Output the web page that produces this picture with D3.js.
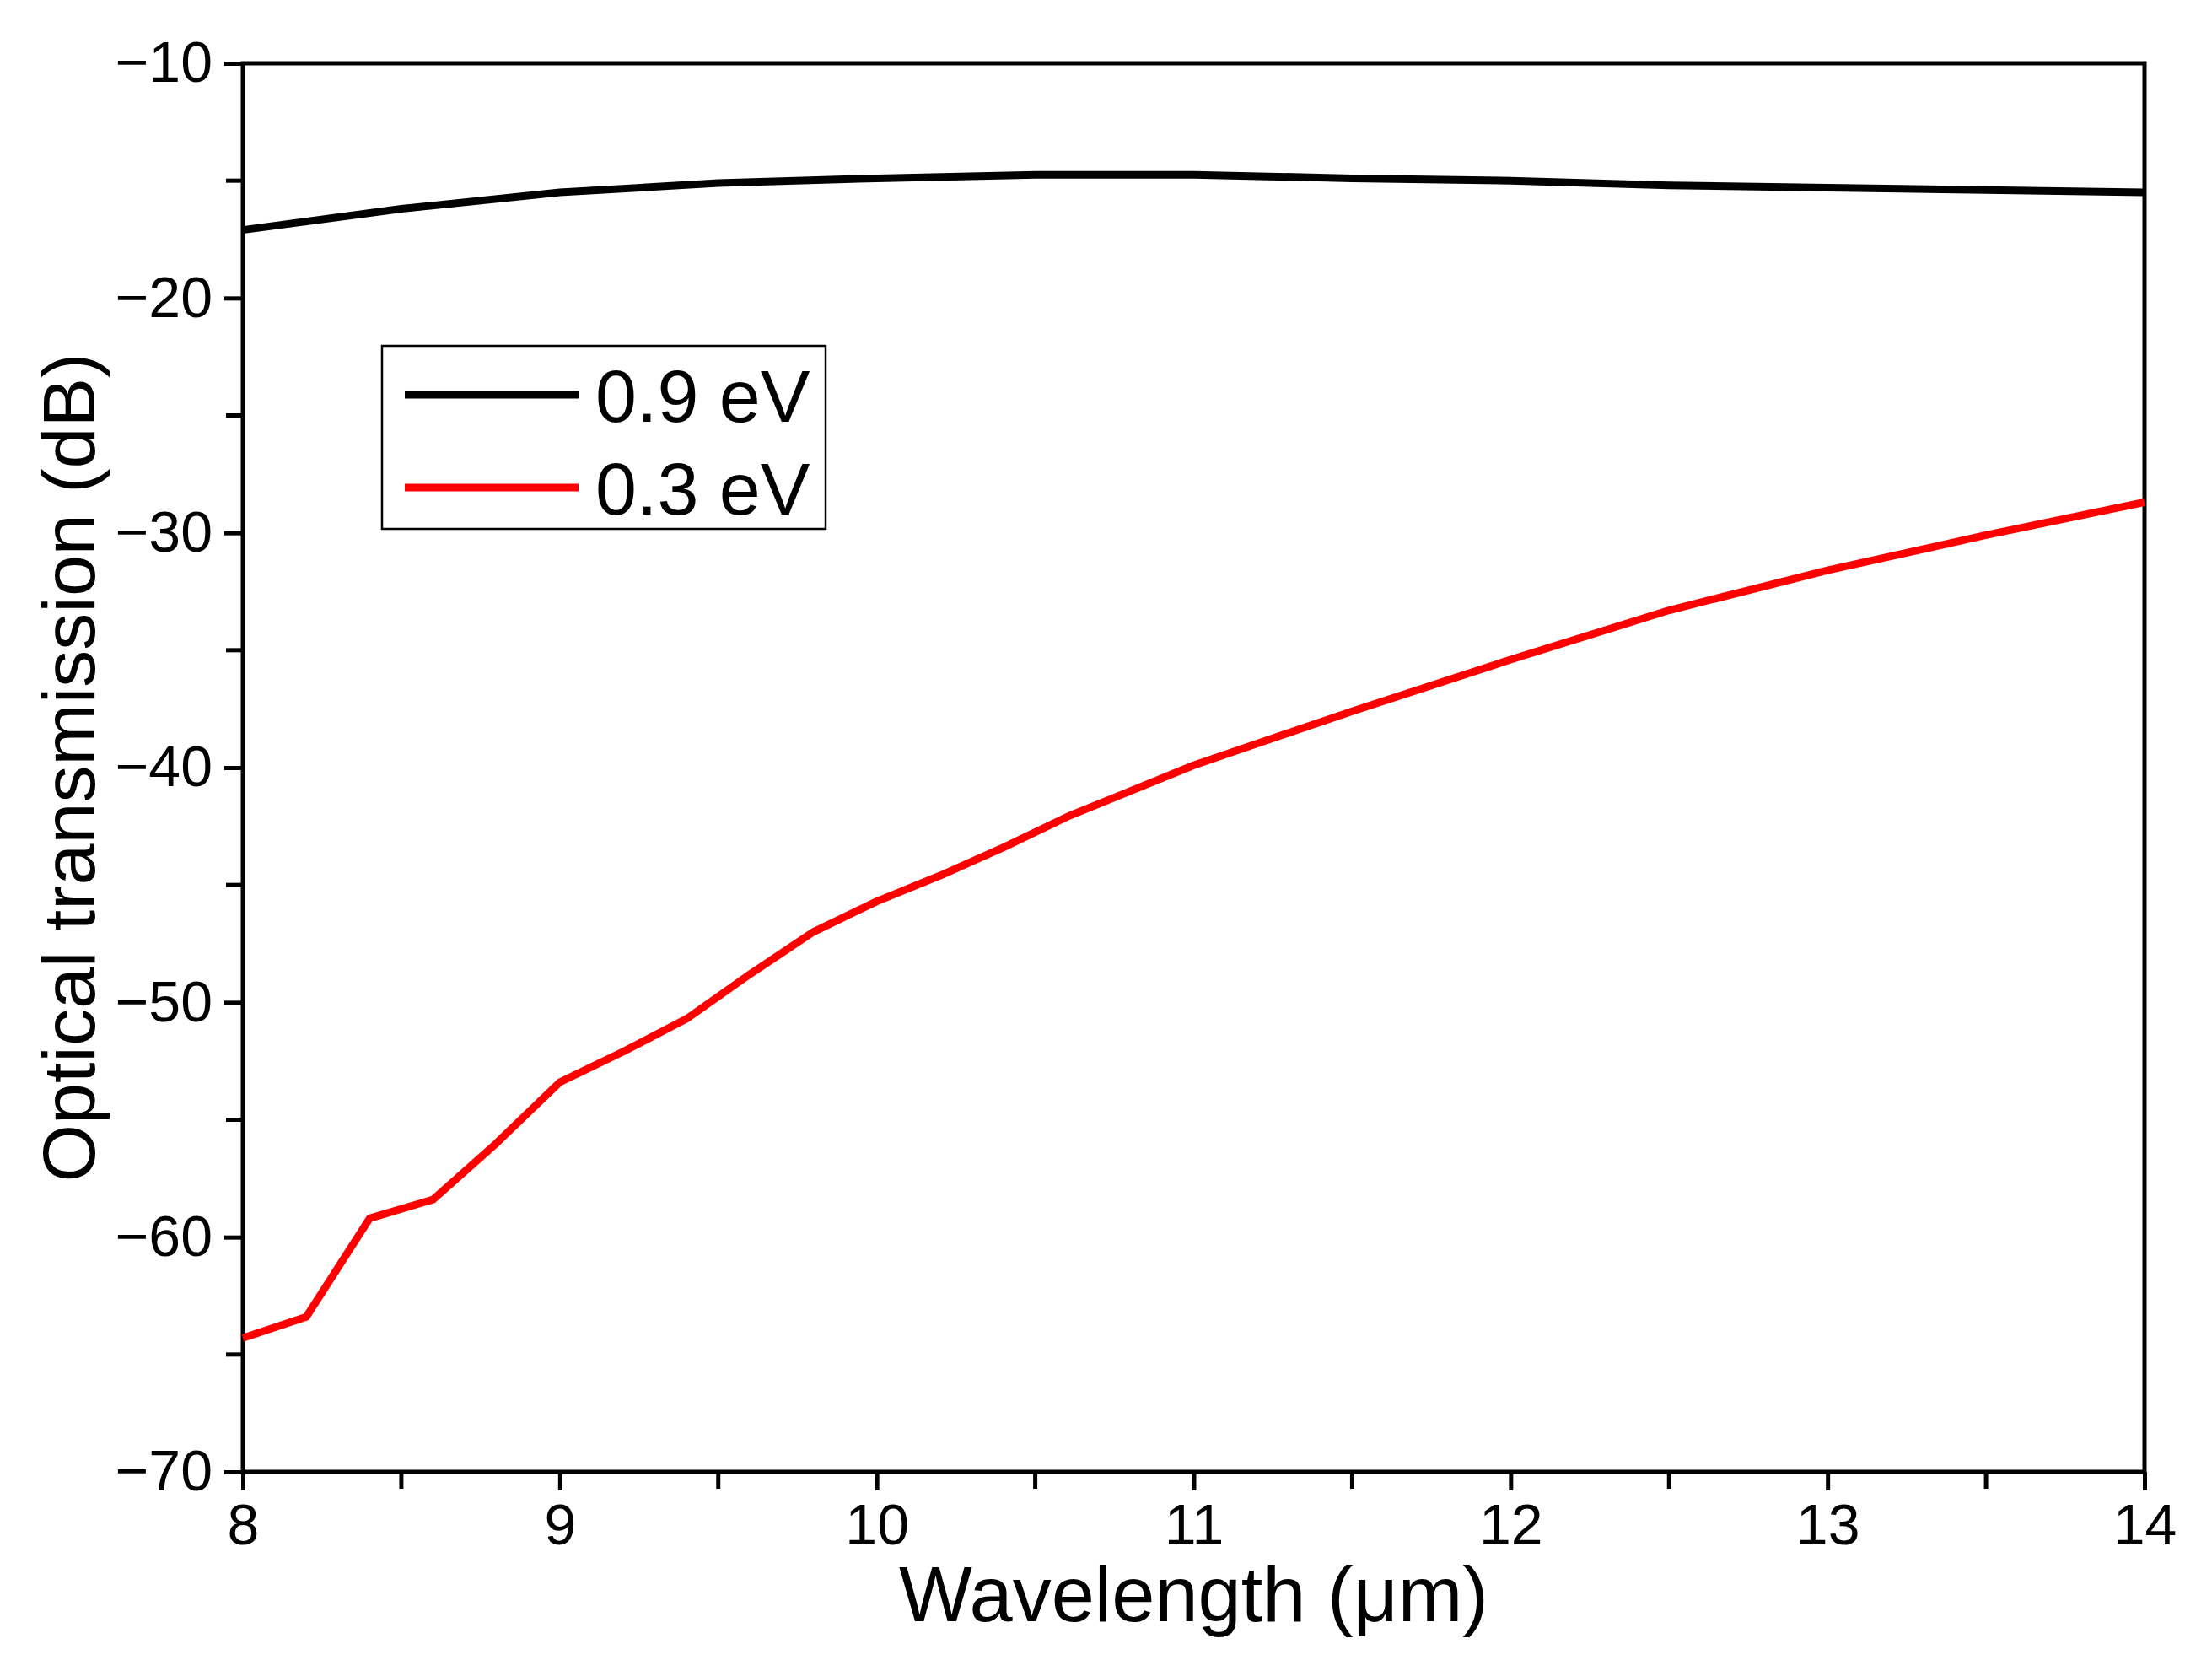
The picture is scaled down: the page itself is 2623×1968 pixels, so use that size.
<!DOCTYPE html>
<html>
<head>
<meta charset="utf-8">
<script src="https://cdn.jsdelivr.net/npm/d3@7"></script>
<style>
  body { margin: 0; background: #fff; }
  text { font-family: "Liberation Sans", Arial, sans-serif; fill: #000; }
</style>
</head>
<body>
<div class="chart"></div>
<script>
// values
const wl09 = [8, 8.5, 9, 9.5, 10, 10.5, 11, 11.5, 12, 12.5, 13, 13.5, 14]
const t09  = [-17.1, -16.2, -15.5, -15.1, -14.9, -14.75, -14.75, -14.9, -15.0, -15.2, -15.3, -15.4, -15.5]
const wl03 = [8, 8.2, 8.4, 8.6, 8.8, 9.0, 9.2, 9.4, 9.6, 9.8, 10, 10.2, 10.4, 10.6, 10.8, 11, 11.5, 12, 12.5, 13, 13.5, 14]
const t03  = [-64.3, -63.4, -59.2, -58.4, -56.0, -53.4, -52.1, -50.7, -48.8, -47.0, -45.7, -44.6, -43.4, -42.1, -41.0, -39.9, -37.6, -35.4, -33.3, -31.6, -30.1, -28.7]
const xTicks = [8, 9, 10, 11, 12, 13, 14]
const yTicks = [-10, -20, -30, -40, -50, -60, -70]
const series = [
  { name: '0.9 eV', color: '#000', x: wl09, y: t09 },
  { name: '0.3 eV', color: '#ff0000', x: wl03, y: t03 }
]

const W = 2623, H = 1968
const margin = {top: 75, right: 80, bottom: 223, left: 288}

const svg = d3.select('.chart').append('svg')
  .attr('width', W).attr('height', H)

const x = d3.scaleLinear().domain([8, 14]).range([margin.left, W - margin.right])
const y = d3.scaleLinear().domain([-70, -10]).range([H - margin.bottom, margin.top])

// minor ticks
const xMinor = d3.range(8.5, 14, 1)
const yMinor = d3.range(-65, -10, 10)

const gx = svg.append('g').attr('transform', `translate(0,${y(-70)})`)
gx.call(d3.axisBottom(x).tickValues(xTicks).tickSize(22).tickPadding(16).tickFormat(d3.format('d')))
gx.selectAll('line').attr('stroke-width', 5)
gx.selectAll('text').style('font-size', '68px')
gx.append('g').selectAll('line').data(xMinor).join('line')
  .attr('x1', d => x(d)).attr('x2', d => x(d)).attr('y1', 0).attr('y2', 20)
  .attr('stroke', '#000').attr('stroke-width', 5)

const gy = svg.append('g').attr('transform', `translate(${x(8)},0)`)
gy.call(d3.axisLeft(y).tickValues(yTicks).tickSize(22).tickPadding(14).tickFormat(d3.format('d')))
gy.selectAll('line').attr('stroke-width', 5)
gy.selectAll('text').style('font-size', '68px')
gy.append('g').selectAll('line').data(yMinor).join('line')
  .attr('y1', d => y(d)).attr('y2', d => y(d)).attr('x1', 0).attr('x2', -20)
  .attr('stroke', '#000').attr('stroke-width', 5)
svg.selectAll('.domain').remove()

// frame
svg.append('rect')
  .attr('x', x(8)).attr('y', y(-10))
  .attr('width', x(14) - x(8)).attr('height', y(-70) - y(-10))
  .attr('fill', 'none').attr('stroke', '#000').attr('stroke-width', 5)

const line = d3.line().x(d => x(d[0])).y(d => y(d[1]))
series.forEach(s => {
  svg.append('path')
    .datum(d3.zip(s.x, s.y))
    .attr('d', line)
    .attr('fill', 'none')
    .attr('stroke', s.color)
    .attr('stroke-width', 9)
    .attr('stroke-linejoin', 'round')
})

// legend
const lg = svg.append('g')
lg.append('rect').attr('x', 453).attr('y', 410).attr('width', 526).attr('height', 217)
  .attr('fill', '#fff').attr('stroke', '#000').attr('stroke-width', 2.5)
series.forEach((s, i) => {
  const yy = 468 + i * 110
  lg.append('line').attr('x1', 480).attr('x2', 686).attr('y1', yy).attr('y2', yy)
    .attr('stroke', s.color).attr('stroke-width', 9)
  lg.append('text').attr('x', 706).attr('y', yy + 32)
    .style('font-size', '88px').text(s.name)
})

// titles
svg.append('text')
  .attr('x', (x(8) + x(14)) / 2).attr('y', 1922)
  .attr('text-anchor', 'middle').style('font-size', '92px')
  .text('Wavelength (μm)')
svg.append('text')
  .attr('transform', `translate(112,${(y(-10) + y(-70)) / 2}) rotate(-90)`)
  .attr('text-anchor', 'middle').style('font-size', '88px')
  .text('Optical transmission (dB)')
</script>
</body>
</html>
